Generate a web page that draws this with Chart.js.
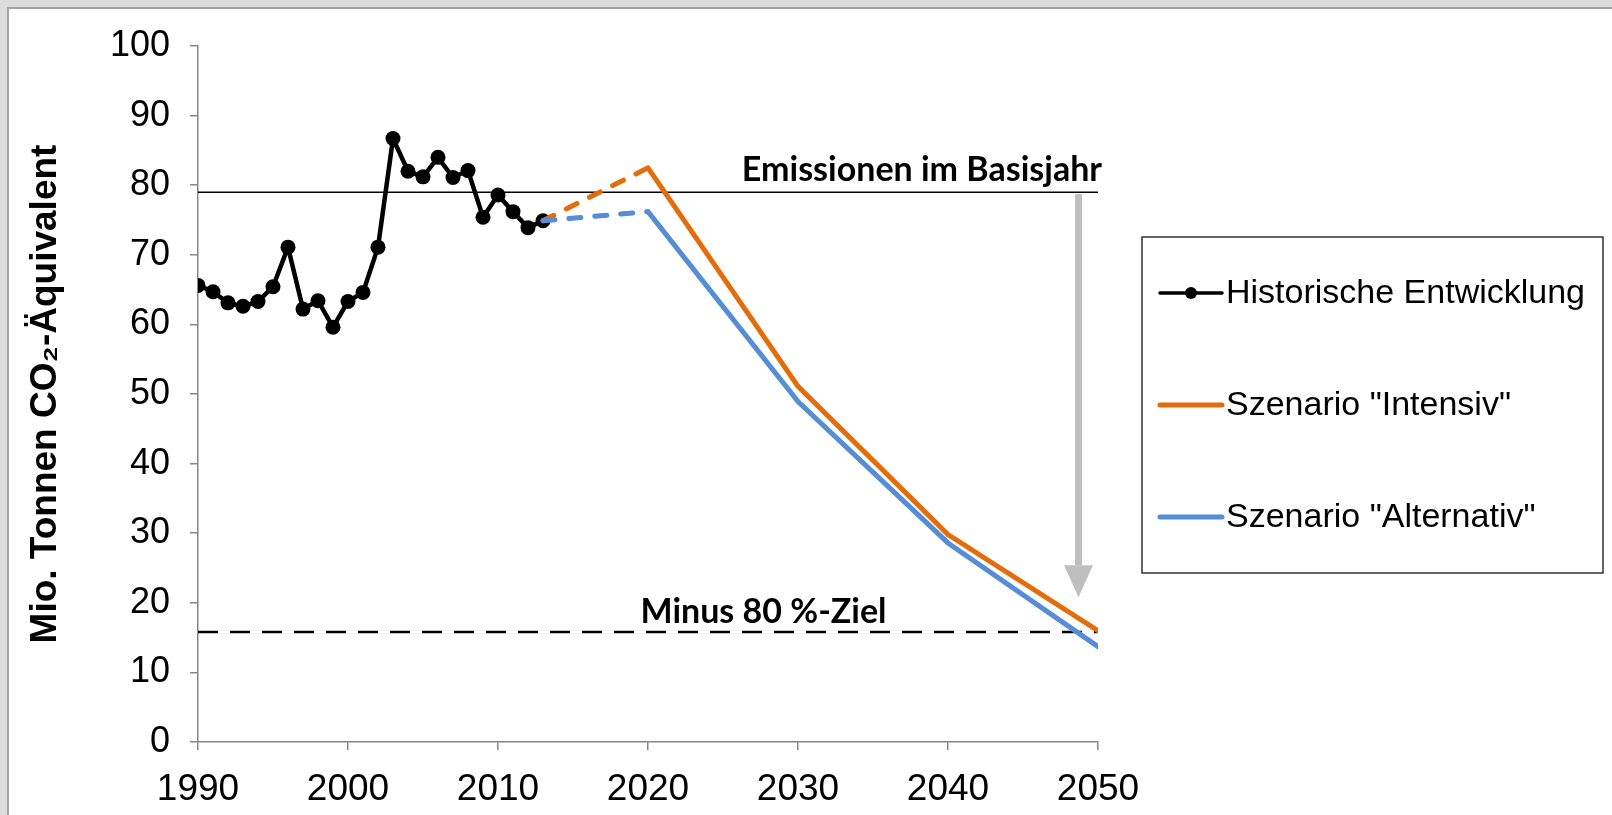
<!DOCTYPE html>
<html>
<head>
<meta charset="utf-8">
<script src="https://cdn.jsdelivr.net/npm/chart.js@4/dist/chart.umd.min.js"></script>
<style>
  body { margin: 0; background: #dcdcdc; }
  .panel { position: absolute; left: 7px; top: 7px; width: 1605px; height: 808px;
           border-left: 2px solid #a3a3a3; border-top: 2px solid #a3a3a3; background: #fff; }
  #chart { position: absolute; left: 0; top: 0; }
</style>
</head>
<body>
<div class="panel"></div>
<canvas id="chart" width="1612" height="815"></canvas>
<script>
// historic emissions 1990-2013
const years = [1990, 1991, 1992, 1993, 1994, 1995, 1996, 1997, 1998, 1999, 2000, 2001,
               2002, 2003, 2004, 2005, 2006, 2007, 2008, 2009, 2010, 2011, 2012, 2013];
const historic = [65.6, 64.7, 63.1, 62.6, 63.3, 65.4, 71.1, 62.2, 63.4, 59.6, 63.3, 64.6,
                  71.1, 86.7, 82.0, 81.2, 84.0, 81.1, 82.1, 75.4, 78.6, 76.2, 73.9, 74.9];

// scenarios
const scenarioYears = [2013, 2020, 2030, 2040, 2050];
const intensiv = [74.9, 82.5, 51.1, 29.8, 16.0];
const alternativ = [74.9, 76.2, 48.9, 28.6, 13.7];

// reference levels
const baseYearValue = 79.0;
const targetValue = 15.8;
const refYears = [1990, 2050];
const arrowYear = 2048.7;
const arrowTip = 20.8;

const xTicks = [1990, 2000, 2010, 2020, 2030, 2040, 2050];

const labels = ['Historische Entwicklung', 'Szenario "Intensiv"', 'Szenario "Alternativ"'];
const orange = 'rgb(228,108,10)';
const blue = 'rgb(85,142,213)';
const axisGray = '#868686';

const pts = (xs, ys) => xs.map((x, i) => ({ x: x, y: ys[i] }));
const dashUntil2020 = ctx => ctx.p1.parsed.x <= 2020 ? [12, 14] : undefined;

const annotations = {
  id: 'annotations',
  afterDatasetsDraw(chart) {
    const c = chart.ctx, x = chart.scales.x, y = chart.scales.y;
    c.save();
    // grey arrow
    const ax = x.getPixelForValue(arrowYear);
    const top = y.getPixelForValue(baseYearValue) + 2;
    const tip = y.getPixelForValue(arrowTip);
    c.fillStyle = '#bfbfbf';
    c.fillRect(ax - 3.5, top, 7, tip - 32 - top);
    c.beginPath();
    c.moveTo(ax - 14.5, tip - 32);
    c.lineTo(ax + 14.5, tip - 32);
    c.lineTo(ax, tip);
    c.closePath();
    c.fill();
    // texts
    c.fillStyle = '#000';
    c.font = 'bold 34px Lato';
    c.textBaseline = 'alphabetic';
    c.textAlign = 'right';
    c.fillText('Emissionen im Basisjahr', x.getPixelForValue(2050) + 4, y.getPixelForValue(baseYearValue) - 11);
    c.textAlign = 'center';
    c.fillText('Minus 80 %-Ziel', x.getPixelForValue(2027.7), y.getPixelForValue(targetValue) - 9);
    c.restore();
  }
};

const boxLegend = {
  id: 'boxLegend',
  afterDraw(chart) {
    const c = chart.ctx;
    c.save();
    c.strokeStyle = '#333';
    c.lineWidth = 1.5;
    c.strokeRect(1142, 237, 461, 336);
    const rows = [293, 405, 517];
    const colors = ['#000', orange, blue];
    c.font = '34px "Liberation Sans", Arial';
    c.textBaseline = 'middle';
    c.textAlign = 'left';
    rows.forEach((ry, i) => {
      c.strokeStyle = colors[i];
      c.lineWidth = i === 0 ? 3.5 : 5;
      c.lineCap = 'round';
      c.beginPath();
      c.moveTo(1160, ry);
      c.lineTo(1222, ry);
      c.stroke();
      if (i === 0) {
        c.fillStyle = '#000';
        c.beginPath();
        c.arc(1191, ry, 6, 0, Math.PI * 2);
        c.fill();
      }
      c.fillStyle = '#000';
      c.fillText(labels[i], 1226, ry + 1);
    });
    c.restore();
  }
};

new Chart(document.getElementById('chart'), {
  type: 'line',
  data: {
    datasets: [
      {
        label: labels[2],
        data: pts(scenarioYears, alternativ),
        borderColor: blue,
        borderWidth: 5,
        borderCapStyle: 'round',
        pointRadius: 0,
        segment: { borderDash: dashUntil2020 },
        order: 0
      },
      {
        label: labels[1],
        data: pts(scenarioYears, intensiv),
        borderColor: orange,
        borderWidth: 5,
        borderCapStyle: 'round',
        pointRadius: 0,
        segment: { borderDash: dashUntil2020 },
        order: 1
      },
      {
        label: labels[0],
        data: pts(years, historic),
        borderColor: '#000',
        backgroundColor: '#000',
        borderWidth: 4.5,
        pointRadius: 7.5,
        pointBorderWidth: 0,
        order: 2
      },
      {
        label: 'Emissionen im Basisjahr',
        data: pts(refYears, [baseYearValue, baseYearValue]),
        borderColor: '#000',
        borderWidth: 1.5,
        pointRadius: 0,
        order: 3
      },
      {
        label: 'Minus 80 %-Ziel',
        data: pts(refYears, [targetValue, targetValue]),
        borderColor: '#000',
        borderWidth: 2.5,
        borderDash: [20, 12],
        pointRadius: 0,
        order: 3
      }
    ]
  },
  options: {
    responsive: false,
    animation: false,
    layout: { padding: { left: 10, top: 46, right: 514, bottom: 0 } },
    scales: {
      x: {
        type: 'linear',
        min: 1990,
        max: 2050,
        afterBuildTicks: s => { s.ticks = xTicks.map(v => ({ value: v })); },
        afterFit: s => { s.height = 73; },
        border: { color: axisGray, width: 1.5 },
        grid: { drawOnChartArea: false, drawTicks: true, tickLength: 8, color: axisGray, lineWidth: 1.5 },
        ticks: {
          color: '#000',
          padding: 18,
          font: { family: '"Liberation Sans", Arial', size: 37 },
          callback: v => String(v)
        }
      },
      y: {
        min: 0,
        max: 100,
        afterFit: s => { s.width = 188; },
        border: { color: axisGray, width: 1.5 },
        grid: { drawOnChartArea: false, drawTicks: true, tickLength: 8, color: axisGray, lineWidth: 1.5 },
        ticks: {
          stepSize: 10,
          color: '#000',
          padding: 20,
          font: { family: '"Liberation Sans", Arial', size: 36 }
        },
        title: {
          display: true,
          text: 'Mio. Tonnen CO₂-Äquivalent',
          color: '#000',
          font: { family: '"Liberation Sans", Arial', size: 37, weight: 'bold' },
          padding: { top: 14, bottom: 4 }
        }
      }
    },
    plugins: {
      legend: { display: false },
      tooltip: { enabled: false }
    }
  },
  plugins: [annotations, boxLegend]
});
</script>
</body>
</html>
